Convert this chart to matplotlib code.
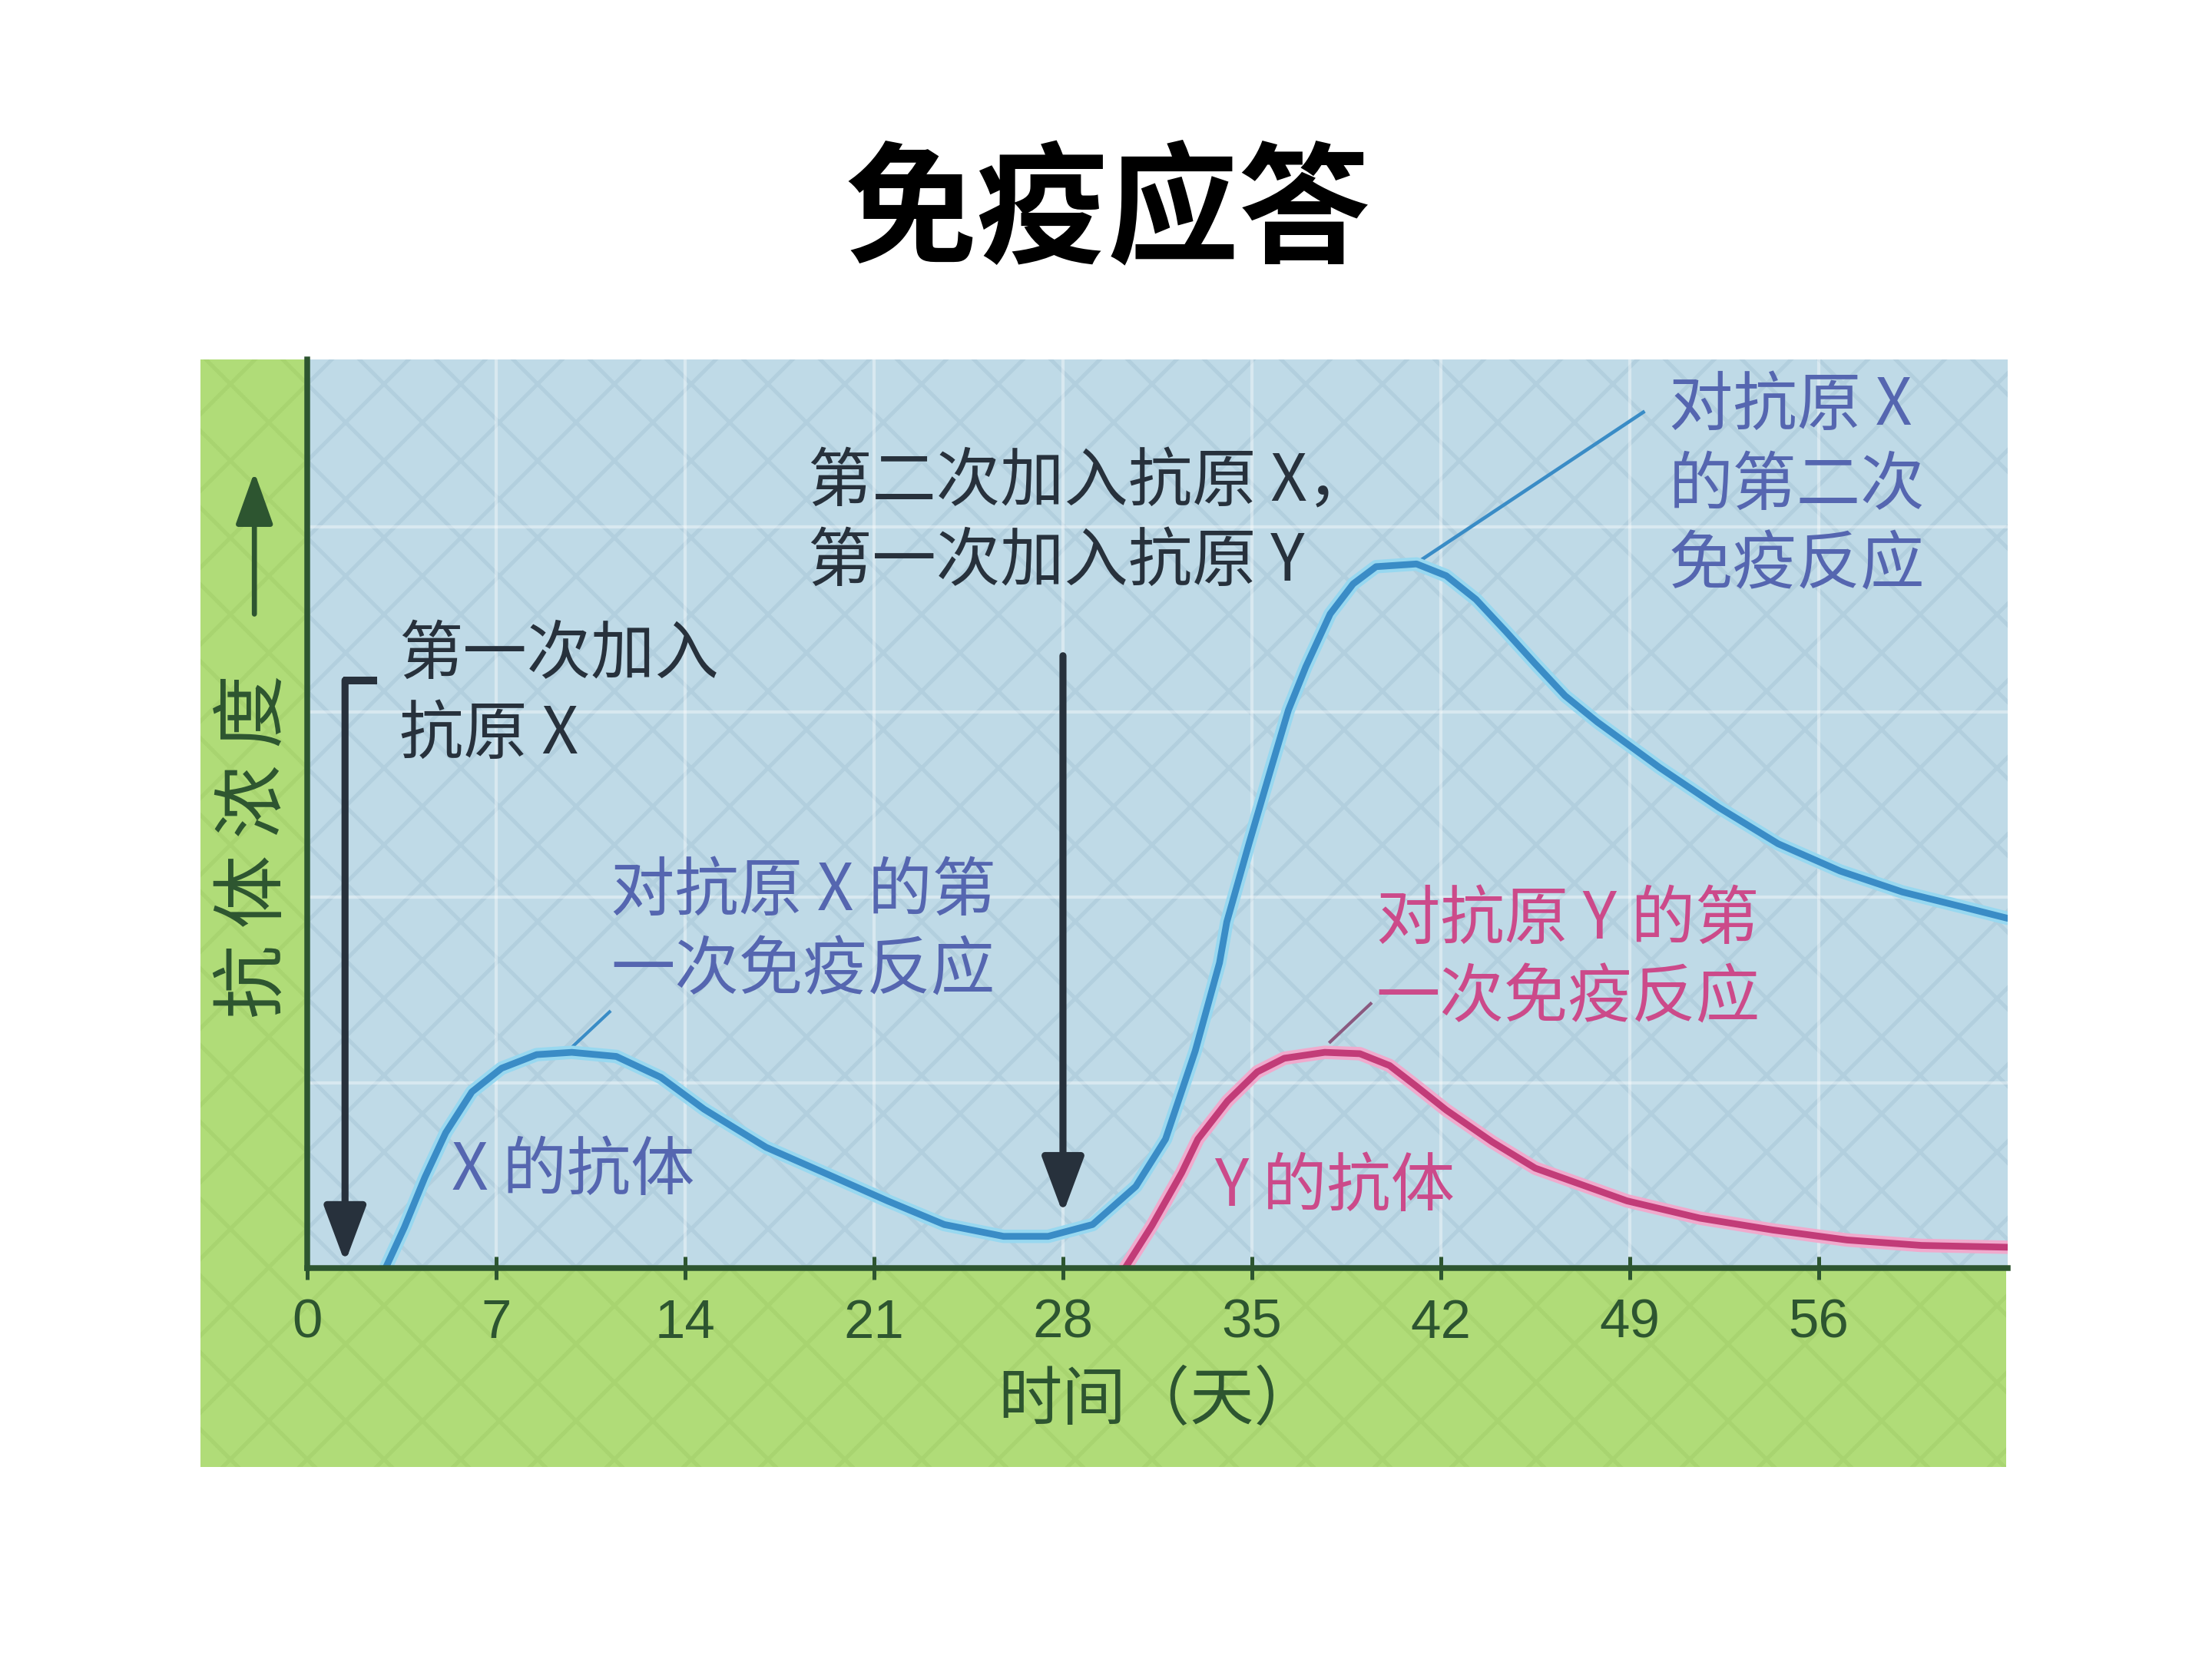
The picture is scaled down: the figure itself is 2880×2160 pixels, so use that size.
import matplotlib
matplotlib.use("Agg")
import matplotlib.pyplot as plt
import matplotlib.patheffects as pe
from matplotlib import font_manager as fm
from matplotlib.patches import Rectangle, FancyArrowPatch

CJK = ["Noto Sans CJK SC", "DejaVu Sans"]
plt.rcParams["font.family"] = CJK
plt.rcParams["hatch.linewidth"] = 1.2

_names = {f.name for f in fm.fontManager.ttflist}
NUM_FONT = ["Liberation Sans Narrow" if "Liberation Sans Narrow" in _names
            else "Liberation Sans", "DejaVu Sans"]

# antibody curves (day, relative concentration 0-100)
x_ab_day = [2.9, 3.6, 4.36, 5.13, 6.1, 7.2, 8.5, 9.8, 11.45, 13.1, 14.7,
            17.0, 19.3, 21.5, 23.6, 25.8, 27.45, 29.1, 30.7, 31.8, 32.9,
            33.8, 34.07, 34.9, 35.7, 36.35, 37.0, 37.9, 38.75, 39.6, 41.1,
            42.2, 43.3, 44.4, 45.5, 46.6, 47.8, 50.1, 52.3, 54.5, 56.8,
            59.1, 61.4, 63.0]
x_ab_level = [0, 4.5, 10, 14.9, 19.4, 22, 23.5, 23.75, 23.3, 21, 17.5,
              13.3, 10.3, 7.4, 4.8, 3.5, 3.5, 4.8, 9.0, 14.2, 23.9,
              33.6, 38.1, 46.8, 54.9, 61.4, 66.2, 72.0, 75.3, 77.2, 77.5,
              76.2, 73.6, 70.1, 66.5, 63.0, 60.1, 55.1, 50.7, 46.7, 43.7,
              41.4, 39.7, 38.5]

y_ab_day = [30.3, 31.3, 32.4, 33.0, 34.1, 35.2, 36.2, 37.7, 39.0, 40.1,
            41.1, 42.2, 43.9, 45.5, 47.2, 48.9, 51.6, 54.3, 57.05, 59.8, 63.0]
y_ab_level = [0, 4.7, 10.5, 14.2, 18.4, 21.6, 23.1, 23.75, 23.6, 22.3,
              20.0, 17.4, 13.9, 11.0, 9.2, 7.4, 5.5, 4.2, 3.1, 2.5, 2.3]

day_ticks = [0, 7, 14, 21, 28, 35, 42, 49, 56]
first_dose_day = 1.4
second_dose_day = 28

C_BLUE = "#3a8cc6"
C_PINK = "#c23c78"
C_LABEL_BLUE = "#5566b0"
C_LABEL_PINK = "#cc4a8a"
C_DARK = "#27313c"
C_AXGREEN = "#2d5530"
C_BG_BLUE = "#bfdae7"
C_BG_GREEN = "#b0dc78"

fig = plt.figure(figsize=(9.6, 7.2), dpi=300)
fig.patch.set_facecolor("white")

# green paper panel behind the plot
panel = Rectangle((0.0906, 0.1157), 0.8164, 0.6676, transform=fig.transFigure,
                  facecolor=C_BG_GREEN, edgecolor="#a8d470", hatch="x",
                  lw=0, zorder=-10)
fig.add_artist(panel)

ax = fig.add_axes([0.1389, 0.2356, 0.7687, 0.5477])
ax.set_zorder(1)
ax.set_facecolor(C_BG_BLUE)
ax.add_patch(Rectangle((0, 0), 1, 1, transform=ax.transAxes,
                       facecolor="none", edgecolor="#b2cfde", hatch="x",
                       lw=0, zorder=0))
ax.set_xlim(0, 63)
ax.set_ylim(0, 100)

# faint paper grid (square cells, 7 days wide)
ax.set_xticks(day_ticks)
ax.set_yticks([20.4, 40.8, 61.2, 81.6])
ax.grid(True, color="white", alpha=0.4, lw=1.0, zorder=0.5)
ax.set_axisbelow(True)
ax.tick_params(axis="y", length=0, labelleft=False)
ax.tick_params(axis="x", direction="inout", length=7, width=1.2,
               color=C_AXGREEN, pad=6, labelsize=17, labelcolor=C_AXGREEN)
for lab in ax.get_xticklabels():
    lab.set_family(NUM_FONT)

for side in ("top", "right"):
    ax.spines[side].set_visible(False)
for side in ("left", "bottom"):
    ax.spines[side].set_color(C_AXGREEN)
    ax.spines[side].set_linewidth(1.8)
    ax.spines[side].set_zorder(5)

halo_b = [pe.Stroke(linewidth=4.2, foreground="#98d8f0"), pe.Normal()]
halo_p = [pe.Stroke(linewidth=4.2, foreground="#f0aacd"), pe.Normal()]
ax.plot(x_ab_day, x_ab_level, color=C_BLUE, lw=2.1, solid_capstyle="round",
        solid_joinstyle="round", path_effects=halo_b, zorder=4)
ax.plot(y_ab_day, y_ab_level, color=C_PINK, lw=2.1, solid_capstyle="round",
        solid_joinstyle="round", path_effects=halo_p, zorder=4)

# leader lines from the peaks to their captions
ax.plot([9.8, 11.2], [24.3, 28.2], color=C_BLUE, lw=1.0, zorder=3)
ax.plot([41.1, 49.5], [77.6, 94.2], color=C_BLUE, lw=1.1, zorder=3)
ax.plot([37.9, 39.4], [24.9, 29.1], color="#8a5a80", lw=1.0, zorder=3)

# antigen injection arrows
arrow = dict(arrowstyle="-|>,head_length=0.75,head_width=0.28",
             color=C_DARK, lw=2.2, mutation_scale=20, shrinkA=0, shrinkB=0)
ax.annotate("", xy=(first_dose_day, 0.6), xytext=(first_dose_day, 64.7),
            arrowprops=arrow, zorder=6)
ax.plot([first_dose_day - 0.05, 2.6], [64.7, 64.7], color=C_DARK, lw=2.4,
        solid_capstyle="butt", zorder=6)
ax.annotate("", xy=(second_dose_day, 6.0), xytext=(second_dose_day, 67.4),
            arrowprops=arrow, zorder=6)

fs = 20
ax.text(3.4, 63.1, "第一次加入\n抗原 X", color=C_DARK, fontsize=fs,
        ha="left", va="center", linespacing=1.25, zorder=7)
ax.text(18.55, 82.1, "第二次加入抗原 X，\n第一次加入抗原 Y", color=C_DARK,
        fontsize=fs, ha="left", va="center", linespacing=1.25, zorder=7)
ax.text(50.45, 86.1, "对抗原 X\n的第二次\n免疫反应", color=C_LABEL_BLUE,
        fontsize=fs, ha="left", va="center", linespacing=1.25, zorder=7)
ax.text(11.24, 37.1, "对抗原 X 的第\n一次免疫反应", color=C_LABEL_BLUE,
        fontsize=fs, ha="left", va="center", linespacing=1.25, zorder=7)
ax.text(5.35, 10.7, "X 的抗体", color=C_LABEL_BLUE, fontsize=fs,
        ha="left", va="center", zorder=7)
ax.text(39.6, 34.0, "对抗原 Y 的第\n一次免疫反应", color=C_LABEL_PINK,
        fontsize=fs, ha="left", va="center", linespacing=1.25, zorder=7)
ax.text(33.6, 8.9, "Y 的抗体", color=C_LABEL_PINK, fontsize=fs,
        ha="left", va="center", zorder=7)

# axis labels
fig.text(0.5236, 0.1556, "时间（天）", color=C_AXGREEN, fontsize=20,
         ha="center", va="center")
fig.text(0.115, 0.4898, "抗 体 浓 度", color=C_AXGREEN, fontsize=23,
         rotation=90, ha="center", va="center")
fig.add_artist(FancyArrowPatch(
    (0.115, 0.626), (0.115, 0.7194), transform=fig.transFigure,
    arrowstyle="-|>,head_length=0.7,head_width=0.25", mutation_scale=20,
    color=C_AXGREEN, lw=1.6))

fig.text(0.5007, 0.8708, "免疫应答", color="black", fontsize=41,
         fontweight="bold", ha="center", va="center")

fig.savefig("out.png", dpi=300, facecolor="white")
